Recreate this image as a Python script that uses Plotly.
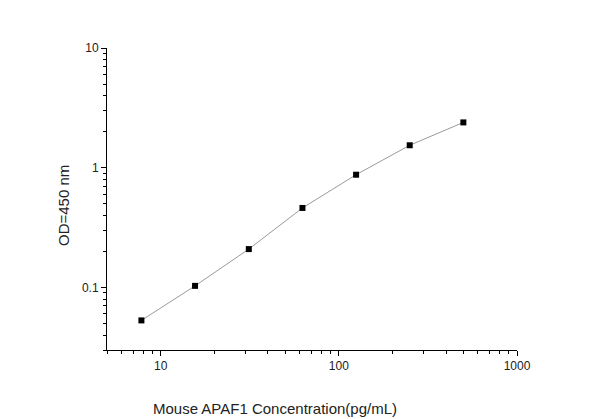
import plotly.graph_objects as go
import numpy as np

conc = [7.8, 15.6, 31.25, 62.5, 125, 250, 500]
od = [0.053, 0.103, 0.209, 0.461, 0.874, 1.54, 2.39]

x_ticks = [10, 100, 1000]
x_tick_labels = ["10", "100", "1000"]
y_ticks = [0.1, 1, 10]
y_tick_labels = ["0.1", "1", "10"]

x_minor = [m * 10**e for e in range(0, 3) for m in range(2, 10) if 5 <= m * 10**e <= 1000]
y_minor = [m * 10.0**e for e in range(-2, 1) for m in range(2, 10) if 0.03 <= m * 10.0**e <= 10]

fig = go.Figure()
fig.add_trace(go.Scatter(
    x=conc, y=od, mode="lines+markers",
    line=dict(color="#9a9a9a", width=1),
    marker=dict(symbol="square", size=6, color="black"),
    showlegend=False,
))

fam = "Liberation Sans, Arial, sans-serif"
font = dict(family=fam, size=12, color="#222")

fig.update_layout(
    width=600, height=419,
    margin=dict(l=107, r=83, t=48, b=69),
    paper_bgcolor="white", plot_bgcolor="white",
    font=font,
    xaxis=dict(
        type="log", range=[np.log10(5), 3],
        tickmode="array", tickvals=x_ticks, ticktext=x_tick_labels,
        ticks="outside", ticklen=5, tickwidth=1, tickcolor="black",
        showline=True, linecolor="black", linewidth=1,
        showgrid=False, zeroline=False,
        minor=dict(tickmode="array", tickvals=x_minor, ticks="outside",
                   ticklen=3, tickwidth=1, tickcolor="black", showgrid=False),
    ),
    yaxis=dict(
        type="log", range=[np.log10(0.03), 1],
        tickmode="array", tickvals=y_ticks, ticktext=y_tick_labels,
        ticks="outside", ticklen=5, tickwidth=1, tickcolor="black",
        showline=True, linecolor="black", linewidth=1,
        showgrid=False, zeroline=False,
        minor=dict(tickmode="array", tickvals=y_minor, ticks="outside",
                   ticklen=3, tickwidth=1, tickcolor="black", showgrid=False),
    ),
    annotations=[
        dict(text="Mouse APAF1 Concentration(pg/mL)", xref="paper", yref="paper",
             x=(275 - 107) / 410, y=-(419 - 350) / 302, xanchor="center", yanchor="bottom",
             showarrow=False, font=dict(family=fam, size=15, color="#222")),
        dict(text="OD=450 nm", xref="paper", yref="paper",
             x=(63 - 107) / 410, y=1 - (206 - 48) / 302, xanchor="center", yanchor="middle",
             textangle=-90, showarrow=False,
             font=dict(family=fam, size=15, color="#222")),
    ],
)

fig.write_html("out.html", config={"displayModeBar": False},
               post_script="document.body.style.margin='0';document.body.style.overflow='hidden';")
